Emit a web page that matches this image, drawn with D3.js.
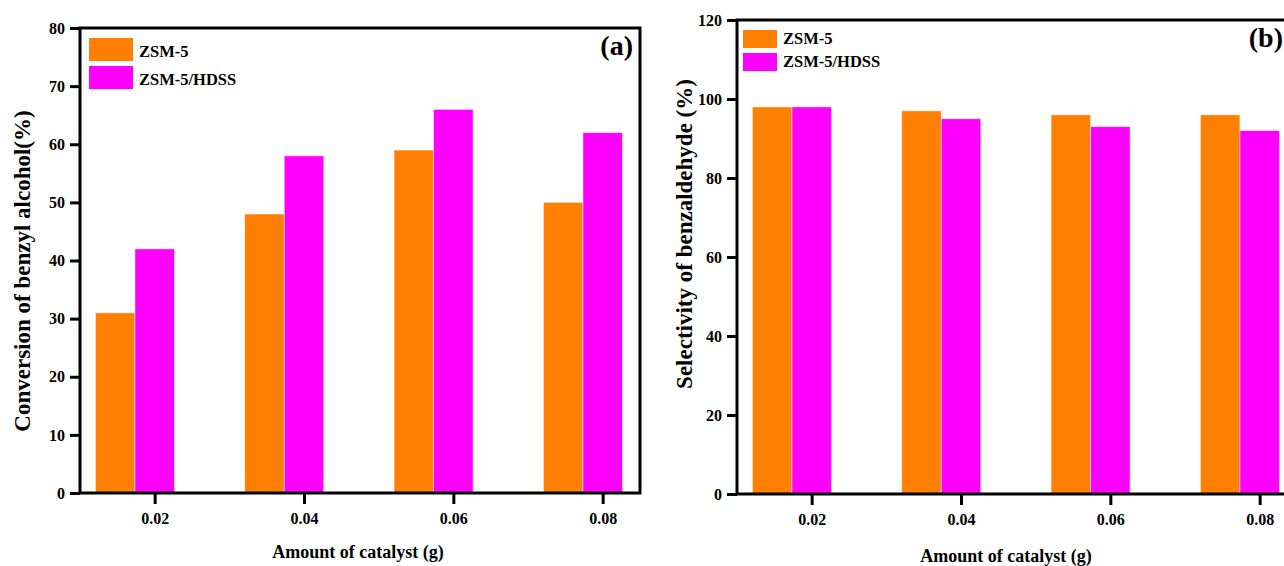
<!DOCTYPE html>
<html>
<head>
<meta charset="utf-8">
<script src="https://cdn.jsdelivr.net/npm/d3@7"></script>
<style>
  body { margin: 0; background: #fff; }
  svg text { font-family: "Liberation Serif", "Times New Roman", serif; font-weight: bold; fill: #000; }
  .axis path { display: none; }
  .axis line { stroke: #000; stroke-width: 3; }
  .axis text { font-size: 16px; }
</style>
</head>
<body>
<div class="canvas"></div>
<script>
// catalyst amounts (g) and tick labels
const amounts = [0.02, 0.04, 0.06, 0.08]
const amountLabels = ["0.02", "0.04", "0.06", "0.08"]

// (a) conversion of benzyl alcohol (%)
const convZSM5 = [31, 48, 59, 50]
const convHDSS = [42, 58, 66, 62]
const convTicks = [0, 10, 20, 30, 40, 50, 60, 70, 80]

// (b) selectivity of benzaldehyde (%)
const selZSM5 = [98, 97, 96, 96]
const selHDSS = [98, 95, 93, 92]
const selTicks = [0, 20, 40, 60, 80, 100, 120]

const seriesNames = ["ZSM-5", "ZSM-5/HDSS"]
const colors = ["#ff8000", "#ff00ff"]

const svg = d3.select(".canvas")
  .append("svg")
  .attr("width", 1284)
  .attr("height", 566)

function drawPanel(opt) {
  const g = svg.append("g")
  const xScale = d3.scaleLinear()
    .domain([0.01, 0.085])
    .range([opt.left, opt.left + 560])
  const yScale = d3.scaleLinear()
    .domain([0, opt.yMax])
    .range([opt.bottom, opt.top])

  const barW = 39.5

  // bars, two series side by side, tick sits under the second bar
  const series = [opt.a, opt.b]
  series.forEach((vals, s) => {
    g.selectAll(".bar" + s)
      .data(amounts)
      .enter().append("rect")
      .attr("x", (d) => xScale(d) - barW * (1.5 - s))
      .attr("y", (d, i) => yScale(vals[i]))
      .attr("width", barW)
      .attr("height", (d, i) => yScale(0) - yScale(vals[i]))
      .attr("fill", colors[s])
      .attr("stroke", "#fff")
      .attr("stroke-opacity", 0.6)
      .attr("stroke-width", 0.8)
  })

  // frame
  g.append("rect")
    .attr("x", opt.left)
    .attr("y", opt.top)
    .attr("width", 560)
    .attr("height", opt.bottom - opt.top)
    .attr("fill", "none")
    .attr("stroke", "#000")
    .attr("stroke-width", 3)

  // axes
  const yAxis = d3.axisLeft(yScale)
    .tickValues(opt.yTicks)
    .tickSize(10)
    .tickPadding(5)
    .tickSizeOuter(0)
  g.append("g")
    .attr("class", "axis")
    .attr("transform", `translate(${opt.left},0)`)
    .call(yAxis)

  const xAxis = d3.axisBottom(xScale)
    .tickValues(amounts)
    .tickFormat((d, i) => amountLabels[i])
    .tickSize(11)
    .tickPadding(9)
    .tickSizeOuter(0)
  g.append("g")
    .attr("class", "axis")
    .attr("transform", `translate(0,${opt.bottom})`)
    .call(xAxis)

  // axis titles
  g.append("text")
    .attr("x", opt.xTitleX)
    .attr("y", opt.xTitleY)
    .attr("text-anchor", "middle")
    .style("font-size", "18px")
    .text("Amount of catalyst (g)")

  g.append("text")
    .attr("transform", `translate(${opt.yTitleX},${opt.yTitleY}) rotate(-90)`)
    .attr("text-anchor", "middle")
    .style("font-size", "23px")
    .text(opt.yTitle)

  // panel tag
  g.append("text")
    .attr("x", opt.tagX)
    .attr("y", opt.tagY)
    .attr("text-anchor", "end")
    .style("font-size", "28px")
    .text(opt.tag)

  // legend
  const legend = g.selectAll(".legend")
    .data(seriesNames)
    .enter().append("g")
    .attr("transform", (d, i) => `translate(${opt.legX},${opt.legY + i * opt.legStep})`)
  legend.append("rect")
    .attr("width", opt.legW)
    .attr("height", opt.legH)
    .attr("fill", (d, i) => colors[i])
  legend.append("text")
    .attr("x", opt.legW + 6)
    .attr("y", opt.legH - 4)
    .style("font-size", "16.5px")
    .text((d) => d)
}

drawPanel({
  left: 80, top: 28, bottom: 493, yMax: 80, yTicks: convTicks,
  a: convZSM5, b: convHDSS,
  xTitleX: 358, xTitleY: 558,
  yTitleX: 30, yTitleY: 271, yTitle: "Conversion of benzyl alcohol(%)",
  tag: "(a)", tagX: 633, tagY: 55,
  legX: 89, legY: 38, legStep: 28, legW: 44, legH: 23
})

drawPanel({
  left: 737, top: 20, bottom: 494, yMax: 120, yTicks: selTicks,
  a: selZSM5, b: selHDSS,
  xTitleX: 1006, xTitleY: 562,
  yTitleX: 692, yTitleY: 234, yTitle: "Selectivity of benzaldehyde (%)",
  tag: "(b)", tagX: 1283, tagY: 47,
  legX: 743, legY: 30, legStep: 23, legW: 34, legH: 18
})
</script>
</body>
</html>
